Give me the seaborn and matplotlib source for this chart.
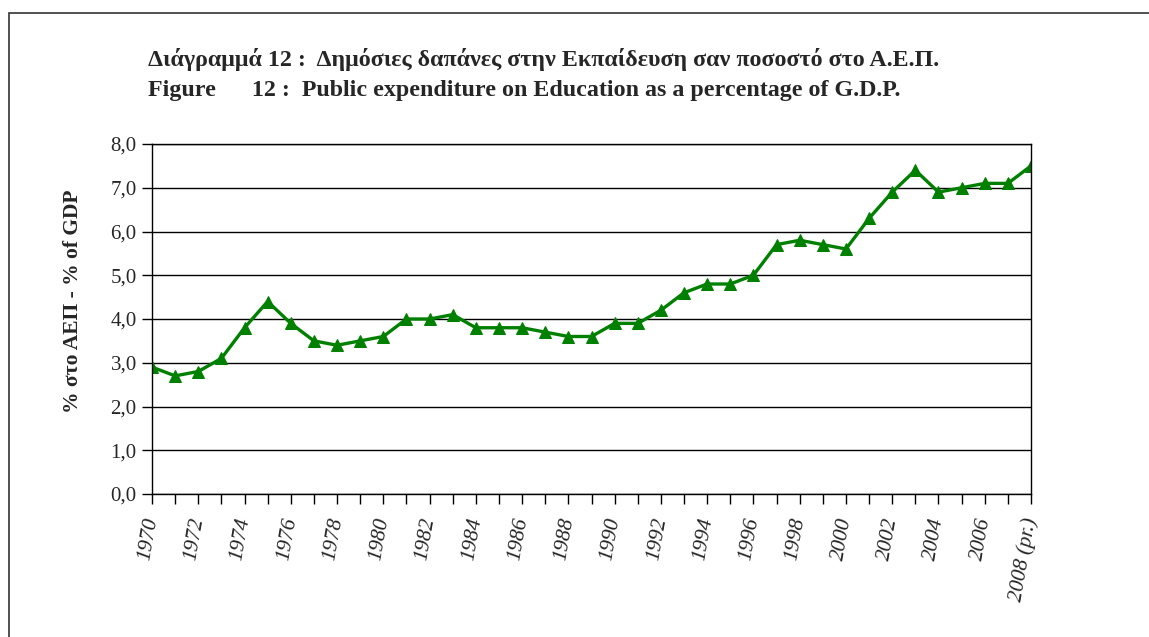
import numpy as np
import pandas as pd
import seaborn as sns
import matplotlib.pyplot as plt

# data
years = list(range(1970, 2009))
pct_gdp = [2.9, 2.7, 2.8, 3.1, 3.8, 4.4, 3.9, 3.5, 3.4, 3.5,
           3.6, 4.0, 4.0, 4.1, 3.8, 3.8, 3.8, 3.7, 3.6, 3.6,
           3.9, 3.9, 4.2, 4.6, 4.8, 4.8, 5.0, 5.7, 5.8, 5.7,
           5.6, 6.3, 6.9, 7.4, 6.9, 7.0, 7.1, 7.1, 7.5]
tick_labels = [str(y) for y in range(1970, 2008, 2)] + ["2008 (pr.)"]

df = pd.DataFrame({"year": years, "pct": pct_gdp})

sns.set_style("white")
plt.rcParams["font.family"] = ["Liberation Serif", "DejaVu Serif"]

fig = plt.figure(figsize=(11.49, 6.37), dpi=100)
ax = fig.add_axes([152 / 1149, 1 - 494 / 637, (1031 - 152) / 1149, (494 - 144) / 637])

sns.lineplot(data=df, x="year", y="pct", ax=ax, color="#008000", linewidth=2.4,
             marker="^", markersize=9, markeredgecolor="#008000")

ax.set_xlim(1970, 2008)
ax.set_ylim(0, 8)
ax.set_yticks(np.arange(0, 9, 1))
ax.set_yticklabels([f"{v:.1f}".replace(".", ",") for v in range(0, 9)], fontsize=15)
ax.set_xticks(years, minor=True)
ax.set_xticks(list(range(1970, 2009, 2)))
ax.set_xticklabels(tick_labels, rotation=80, fontsize=15.5, style="italic",
                   ha="right", va="center", rotation_mode="anchor")
ax.tick_params(axis="x", which="both", direction="out", length=7, width=1,
               color="black", pad=10, bottom=True)
ax.tick_params(axis="y", direction="out", length=7, width=1, color="black",
               left=True, pad=4)
ax.yaxis.grid(True, color="black", linewidth=1)
ax.set_axisbelow(True)
for s in ax.spines.values():
    s.set_color("black")
    s.set_linewidth(1)
ax.set_xlabel("")
ax.set_ylabel("% στο ΑΕΠ - % of GDP", fontsize=15.5, fontweight="bold")
ax.yaxis.set_label_coords(-0.079, 0.55)

fig.text(148 / 1149, 1 - 66 / 637,
         "Διάγραμμά 12 :  Δημόσιες δαπάνες στην Εκπαίδευση σαν ποσοστό στο Α.Ε.Π.",
         fontsize=17.3, fontweight="bold", va="baseline")
fig.text(148 / 1149, 1 - 96 / 637,
         "Figure      12 :  Public expenditure on Education as a percentage of G.D.P.",
         fontsize=17.3, fontweight="bold", va="baseline")

# outer frame
fig.add_artist(plt.Rectangle((9 / 1149, -0.01), 1.02, 1 - 13 / 637 + 0.01,
                             transform=fig.transFigure, fill=False,
                             edgecolor="#333333", linewidth=1.2))

fig.savefig("out.png", dpi=100)
